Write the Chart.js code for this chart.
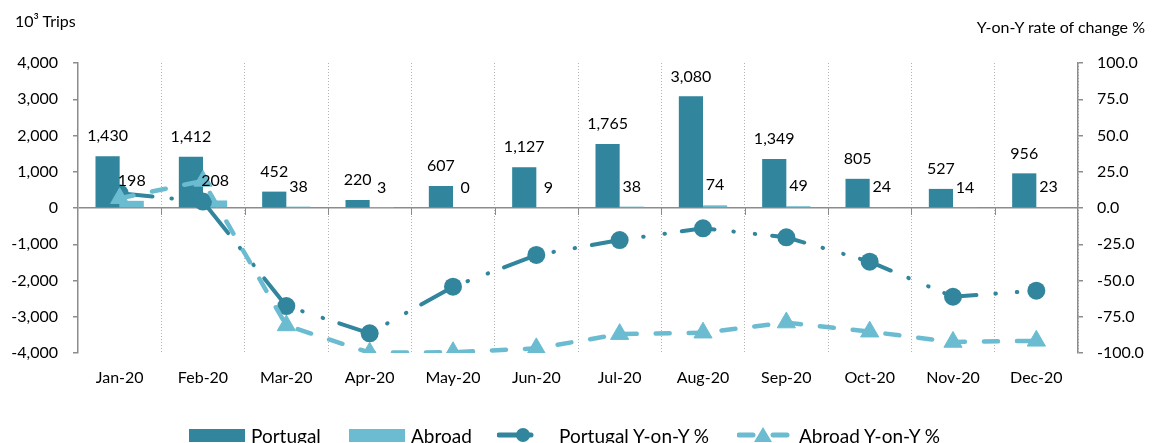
<!DOCTYPE html>
<html>
<head>
<meta charset="utf-8">
<script src="https://cdn.jsdelivr.net/npm/chart.js@4/dist/chart.umd.min.js"></script>
<style>
  html, body { margin: 0; padding: 0; background: #fff; }
  #wrap { position: relative; width: 1153px; height: 443px; font-family: Lato, "Open Sans", sans-serif; color: #000; }
  canvas { position: absolute; left: 0; top: 0; }
  .t { position: absolute; font-size: 16px; white-space: nowrap; }
  .lg { position: absolute; top: 425px; height: 20px; display: flex; align-items: center; font-size: 19px; white-space: nowrap; }
  .lg svg { margin-right: 6px; }
</style>
</head>
<body>
<div id="wrap">
  <canvas id="c" width="1153" height="443" style="width:1153px;height:443px"></canvas>
  <div class="t" style="left:15px;top:11px">10³ Trips</div>
  <div class="t" style="right:8px;top:17px">Y-on-Y rate of change %</div>
  <div class="lg" style="left:189px"><svg width="56" height="13"><rect x="0" y="0" width="56" height="13" fill="#31859C"/></svg>Portugal</div>
  <div class="lg" style="left:349px"><svg width="56" height="13"><rect x="0" y="0" width="56" height="13" fill="#6BBCD0"/></svg>Abroad</div>
  <div class="lg" style="left:497px"><svg width="40" height="20" style="margin-right:22px"><line x1="2" y1="10" x2="34" y2="10" stroke="#31859C" stroke-width="5" stroke-linecap="round"/><circle cx="26" cy="10" r="7" fill="#31859C"/></svg>Portugal Y-on-Y %</div>
  <div class="lg" style="left:737px"><svg width="54" height="20" style="margin-right:8px"><line x1="2" y1="10" x2="16" y2="10" stroke="#6BBCD0" stroke-width="5" stroke-linecap="round"/><line x1="36" y1="10" x2="50" y2="10" stroke="#6BBCD0" stroke-width="5" stroke-linecap="round"/><polygon points="26,2 35,17 17,17" fill="#6BBCD0"/></svg>Abroad Y-on-Y %</div>
</div>
<script>
const categories = ['Jan-20','Feb-20','Mar-20','Apr-20','May-20','Jun-20','Jul-20','Aug-20','Sep-20','Oct-20','Nov-20','Dec-20'];
const portugal = [1430, 1412, 452, 220, 607, 1127, 1765, 3080, 1349, 805, 527, 956];
const abroad = [198, 208, 38, 3, 0, 9, 38, 74, 49, 24, 14, 23];
const portugalYoY = [10.1, 4.4, -67.6, -86.4, -54.3, -32.4, -22.1, -14.0, -20.2, -37.0, -61.2, -57.0];
const abroadYoY = [6.7, 18.7, -81.0, -99.8, -99.5, -96.8, -87.0, -86.0, -79.0, -85.3, -92.4, -91.6];
const leftTicks = { min: -4000, max: 4000, step: 1000 };
const rightTicks = { min: -100, max: 100, step: 25 };

const DARK = '#31859C';
const LIGHT = '#6BBCD0';
const AXIS = '#8c8c8c';
const FONT = 'Lato, "Open Sans", sans-serif';

const labelPlugin = {
  id: 'barLabels',
  afterDatasetsDraw(chart) {
    const ctx = chart.ctx;
    ctx.save();
    ctx.font = '16px ' + FONT;
    ctx.fillStyle = '#000';
    ctx.textAlign = 'center';
    ctx.textBaseline = 'middle';
    [0, 1].forEach(di => {
      const meta = chart.getDatasetMeta(di);
      const data = chart.data.datasets[di].data;
      meta.data.forEach((el, i) => {
        ctx.fillText(data[i].toLocaleString('en-US'), el.x, el.y - 20);
      });
    });
    ctx.restore();
  }
};

const zeroTicks = {
  id: 'zeroTicks',
  afterDraw(chart) {
    const x = chart.scales.x, y = chart.scales.y;
    const y0 = y.getPixelForValue(0);
    const ctx = chart.ctx;
    ctx.save();
    ctx.strokeStyle = AXIS;
    ctx.lineWidth = 1;
    for (let i = 0; i < categories.length - 1; i++) {
      const bx = Math.round((x.getPixelForValue(i) + x.getPixelForValue(i + 1)) / 2) + 0.5;
      ctx.beginPath();
      ctx.moveTo(bx, y0);
      ctx.lineTo(bx, y0 + 7);
      ctx.stroke();
    }
    ctx.restore();
  }
};

Chart.defaults.font.family = FONT;
Chart.defaults.color = '#000';

new Chart(document.getElementById('c'), {
  data: {
    labels: categories,
    datasets: [
      { type: 'bar', label: 'Portugal', data: portugal, backgroundColor: DARK, yAxisID: 'y', order: 3,
        categoryPercentage: 0.58, barPercentage: 1.0 },
      { type: 'bar', label: 'Abroad', data: abroad, backgroundColor: LIGHT, yAxisID: 'y', order: 4,
        categoryPercentage: 0.58, barPercentage: 1.0 },
      { type: 'line', label: 'Portugal Y-on-Y %', data: portugalYoY, yAxisID: 'y1', order: 2,
        borderColor: DARK, borderWidth: 4, borderDash: [33, 19, 0.5, 21, 0.5, 17], borderCapStyle: 'round',
        tension: 0, pointStyle: 'circle', pointRadius: 9, pointBackgroundColor: DARK, pointBorderColor: DARK, pointBorderWidth: 0 },
      { type: 'line', label: 'Abroad Y-on-Y %', data: abroadYoY, yAxisID: 'y1', order: 1,
        borderColor: LIGHT, borderWidth: 4.5, borderDash: [14, 19], borderCapStyle: 'round',
        tension: 0, pointStyle: 'triangle', pointRadius: 10.5, pointBackgroundColor: LIGHT, pointBorderColor: LIGHT, pointBorderWidth: 1 }
    ]
  },
  options: {
    responsive: false,
    animation: false,
    devicePixelRatio: 1,
    layout: { padding: { top: 63, left: 0, right: 0, bottom: 0 } },
    plugins: { legend: { display: false }, tooltip: { enabled: false } },
    scales: {
      x: {
        offset: true,
        grid: { display: true, offset: true, drawTicks: false, color: '#b3b3b3', lineWidth: 1 },
        border: { display: false, dash: [1, 2] },
        ticks: { padding: 15, font: { size: 16 }, color: '#000', maxRotation: 0 },
        afterFit(s) { s.height = 90; }
      },
      y: {
        position: 'left',
        min: leftTicks.min, max: leftTicks.max,
        ticks: { stepSize: leftTicks.step, padding: 15, font: { size: 16 }, color: '#000',
          callback: v => v.toLocaleString('en-US') },
        grid: { drawOnChartArea: true, tickLength: 5, tickColor: AXIS, lineWidth: 1.5,
          color: c => (c.tick && c.tick.value === 0) ? AXIS : 'rgba(0,0,0,0)' },
        border: { display: true, color: AXIS, width: 1.5 },
        afterFit(s) { s.width = 78; }
      },
      y1: {
        position: 'right',
        min: rightTicks.min, max: rightTicks.max,
        ticks: { stepSize: rightTicks.step, padding: 14, font: { size: 16 }, color: '#000',
          callback: v => v.toFixed(1) },
        grid: { drawOnChartArea: false, tickLength: 5, tickColor: AXIS, lineWidth: 1.5 },
        border: { display: true, color: AXIS, width: 1.5 },
        afterFit(s) { s.width = 75; }
      }
    }
  },
  plugins: [labelPlugin, zeroTicks]
});
</script>
</body>
</html>
